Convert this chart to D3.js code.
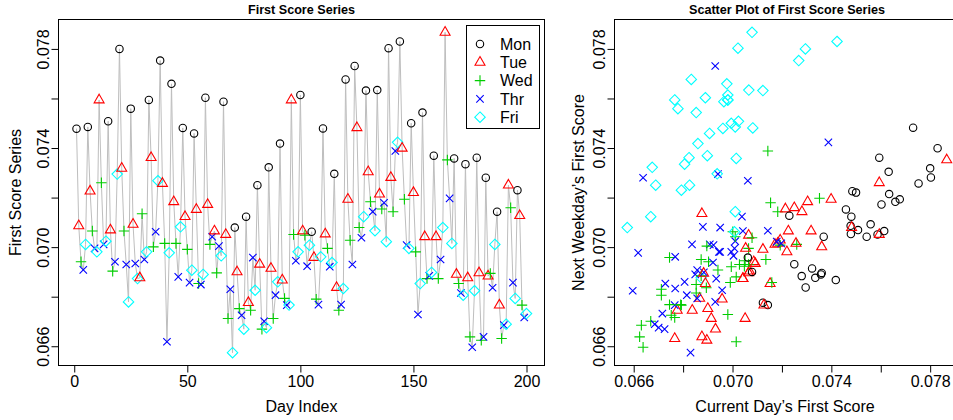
<!DOCTYPE html>
<html>
<head>
<meta charset="utf-8">
<script src="https://cdn.jsdelivr.net/npm/d3@7"></script>
<style>
  body { margin: 0; background: #fff; }
  svg text { font-family: "Liberation Sans", Arial, Helvetica, sans-serif; }
</style>
</head>
<body>
<svg id="chart" width="953" height="420"></svg>
<script>
// weekday names, R palette 1:5 and pch 1:5
var dayNames = ["Mon", "Tue", "Wed", "Thr", "Fri"];
var dayColors = ["#000000", "#ff0000", "#00cd00", "#0000ff", "#00ffff"];

// weekday of each observation (0 = Mon ... 4 = Fri), holidays leave gaps
var weekday = [
  0,1,2,3,4, 0,1,2,3,4, 1,2,3,4, 0,1,2,3,4, 0,1,2,3,4, 0,1,3,4, 1,2,3,4,
  0,1,2,3,4, 0,1,2,3,4, 0,1,2,3,4, 0,1,2,3,4, 0,1,2,3,4, 0,1,2,3, 1,2,3,4,
  0,1,2,3,4, 0,1,2,3,4, 0,1,2,3,4, 0,1,2,3,4, 0,1,2,3,4, 0,1,2,3,4, 1,2,3,4,
  0,1,2,3,4, 0,1,2,3,4, 0,1,2,3,4, 0,1,2,3,4, 0,1,2,3, 0,1,2,3,4, 0,1,2,3,4,
  0,1,2,3,4, 0,1,2,3,4, 0,1,2,3,4, 0,1,2,3,4, 0,1,2,3,4, 0,1,2,3,4, 1,2,3,4,
  0,1,2,3,4, 0,1,2,3,4, 0,1,2,3, 0,1,2,3,4, 0,1,2,3,4, 1,2,3,4, 0,1,2,3,4
];

// first score of each day
var scores = [
  0.07478,0.07086,0.06941,0.06908,0.07011, 0.07485,0.07226,0.07065,0.06995,0.06981,
  0.07594,0.07260,0.07011,0.07024, 0.07508,0.07069,0.06903,0.06941,0.07295,
  0.07800,0.07318,0.07065,0.06930,0.06779, 0.07559,0.07092,0.06934,0.06873,
  0.06876,0.07135,0.06950,0.06981, 0.07594,0.07361,0.07001,0.07062,0.07268,
  0.07753,0.07257,0.07015,0.06618,0.06977, 0.07659,0.07183,0.07015,0.06880,0.07082,
  0.07481,0.07123,0.06991,0.06857,0.06907, 0.07459,0.07152,0.06853,0.06849,0.06890,
  0.07603,0.07172,0.07011,0.07042, 0.07065,0.06896,0.07004,0.06965,
  0.07587,0.07051,0.06712,0.06830,0.06574, 0.07079,0.06900,0.06752,0.06725,0.06669,
  0.07123,0.06776,0.06745,0.06958,0.06826, 0.07250,0.06931,0.06669,0.06701,0.06675,
  0.07322,0.06914,0.06712,0.06806,0.06860, 0.07418,0.06867,0.06793,0.06766,0.06766,
  0.07594,0.07051,0.06945,0.06981, 0.07614,0.07065,0.07048,0.06923,0.07008,
  0.07062,0.06958,0.06790,0.06768,0.06961, 0.07479,0.07053,0.06995,0.06921,0.06938,
  0.07296,0.06837,0.06745,0.06768,0.06833, 0.07677,0.07193,0.07028,0.06930,
  0.07731,0.07482,0.07079,0.07038,0.07123, 0.07632,0.07304,0.07183,0.07143,0.07066,
  0.07634,0.07214,0.07154,0.07179,0.07022, 0.07803,0.07281,0.07143,0.07388,0.07423,
  0.07830,0.07399,0.07193,0.07008,0.06995, 0.07500,0.07220,0.06981,0.06728,0.06853,
  0.07543,0.07042,0.06873,0.06884,0.06898, 0.07369,0.07042,0.06873,0.06950,0.07079,
  0.07867,0.07352,0.07197,0.07015, 0.07358,0.06890,0.06853,0.06815,0.06806,
  0.07335,0.06876,0.06638,0.06596,0.06824, 0.07361,0.06896,0.06624,0.06638,
  0.07280,0.06883,0.06894,0.06836,0.07011, 0.07143,0.06766,0.06631,0.06685,0.06689,
  0.07250,0.07159,0.06857,0.06793, 0.07230,0.07127,0.06766,0.06716,0.06732
];

var dayTicks = [0, 50, 100, 150, 200];
var scoreTicks = [0.066, 0.068, 0.070, 0.072, 0.074, 0.076, 0.078];
var scoreLabels = [0.066, 0.070, 0.074, 0.078];

var svg = d3.select("#chart");
var fmt = d3.format(".3f");

// R style axis range: data range plus 4% each side
function rRange(ext) {
  var r = ext[1] - ext[0];
  return [ext[0] - 0.04 * r, ext[1] + 0.04 * r];
}

function drawSymbol(g, type, cx, cy, color) {
  var r = 3.7;
  if (type === 0) {
    g.append("circle").attr("cx", cx).attr("cy", cy).attr("r", r)
      .attr("fill", "none").attr("stroke", color).attr("stroke-width", 1.1);
  } else if (type === 1) {
    var top = r * 1.555, yc = r * 0.7776, xc = r * 1.3468;
    g.append("path")
      .attr("d", "M" + cx + "," + (cy - top) + "L" + (cx + xc) + "," + (cy + yc) +
        "L" + (cx - xc) + "," + (cy + yc) + "Z")
      .attr("fill", "none").attr("stroke", color).attr("stroke-width", 1.1);
  } else if (type === 2) {
    var a = r * 1.414;
    g.append("path")
      .attr("d", "M" + (cx - a) + "," + cy + "H" + (cx + a) + "M" + cx + "," + (cy - a) + "V" + (cy + a))
      .attr("fill", "none").attr("stroke", color).attr("stroke-width", 1.1);
  } else if (type === 3) {
    g.append("path")
      .attr("d", "M" + (cx - r) + "," + (cy - r) + "L" + (cx + r) + "," + (cy + r) +
        "M" + (cx - r) + "," + (cy + r) + "L" + (cx + r) + "," + (cy - r))
      .attr("fill", "none").attr("stroke", color).attr("stroke-width", 1.1);
  } else {
    var d = r * 1.414;
    g.append("path")
      .attr("d", "M" + cx + "," + (cy - d) + "L" + (cx + d) + "," + cy + "L" + cx + "," + (cy + d) +
        "L" + (cx - d) + "," + cy + "Z")
      .attr("fill", "none").attr("stroke", color).attr("stroke-width", 1.1);
  }
}

function bottomAxis(g, scale, ticks, labels, y, fmtFn) {
  var ax = d3.axisBottom(scale).tickValues(ticks).tickSize(7).tickPadding(3)
    .tickFormat(function(v) { return labels.indexOf(v) >= 0 ? fmtFn(v) : ""; });
  var a = g.append("g").attr("transform", "translate(0," + y + ")").call(ax);
  a.select(".domain").remove();
  a.selectAll("line").attr("stroke", "#000");
  a.selectAll("text").attr("font-size", 16).attr("fill", "#000")
    .attr("font-family", "Liberation Sans, Arial, sans-serif")
    .attr("y", 21).attr("dy", 0);
}

function leftAxis(g, scale, ticks, labels, x) {
  var ax = d3.axisLeft(scale).tickValues(ticks).tickSize(7)
    .tickFormat(function(v) { return labels.some(function(l) { return Math.abs(l - v) < 1e-9; }) ? fmt(v) : ""; });
  var a = g.append("g").attr("transform", "translate(" + x + ",0)").call(ax);
  a.select(".domain").remove();
  a.selectAll("line").attr("stroke", "#000");
  a.selectAll("text").attr("font-size", 16).attr("fill", "#000")
    .attr("font-family", "Liberation Sans, Arial, sans-serif")
    .attr("x", 0).attr("dy", 0).attr("text-anchor", "middle")
    .attr("transform", "translate(-10,0) rotate(-90)");
}

// bold narrow title, falls back to regular width if the narrow face is missing
function addTitle(g, cx, label) {
  var t = g.append("text").attr("x", cx).attr("y", 14)
    .attr("text-anchor", "middle").attr("font-weight", "bold")
    .attr("font-family", "Liberation Sans Narrow")
    .attr("font-size", 14.5).text(label);
  var target = label.length * 5.95;
  if (t.node().getComputedTextLength() > target * 1.08) {
    t.attr("font-family", "Liberation Sans, Arial, sans-serif").attr("font-size", 12.6);
  }
}

// ---------------- left panel: the series ----------------
var L = { left: 58.5, right: 544.5, top: 19.5, bottom: 365.5 };
var x = d3.scaleLinear().domain(rRange([1, scores.length])).range([L.left, L.right]);
var y = d3.scaleLinear().domain(rRange(d3.extent(scores))).range([L.bottom, L.top]);

var gl = svg.append("g");
gl.append("path")
  .datum(scores)
  .attr("d", d3.line().x(function(d, i) { return x(i + 1); }).y(function(d) { return y(d); }))
  .attr("fill", "none").attr("stroke", "#bebebe").attr("stroke-width", 1);

scores.forEach(function(v, i) {
  drawSymbol(gl, weekday[i], x(i + 1), y(v), dayColors[weekday[i]]);
});

gl.append("rect").attr("x", L.left).attr("y", L.top)
  .attr("width", L.right - L.left).attr("height", L.bottom - L.top)
  .attr("fill", "none").attr("stroke", "#000");

bottomAxis(gl, x, dayTicks, dayTicks, L.bottom, d3.format("d"));
leftAxis(gl, y, scoreTicks, scoreLabels, L.left);

addTitle(gl, (L.left + L.right) / 2, "First Score Series");
gl.append("text").attr("x", (L.left + L.right) / 2).attr("y", 412)
  .attr("text-anchor", "middle").attr("font-size", 16).text("Day Index");
gl.append("text").attr("transform", "translate(21," + ((L.top + L.bottom) / 2) + ") rotate(-90)")
  .attr("text-anchor", "middle").attr("font-size", 16).text("First Score Series");

// legend
var leg = gl.append("g");
leg.append("rect").attr("x", 466.5).attr("y", 25.5).attr("width", 73).attr("height", 103)
  .attr("fill", "#fff").attr("stroke", "#000");
dayNames.forEach(function(name, i) {
  var ly = 44 + i * 18.3;
  drawSymbol(leg, i, 480, ly, dayColors[i]);
  leg.append("text").attr("x", 500).attr("y", ly).attr("dy", "0.36em")
    .attr("font-size", 16).text(name);
});

// ---------------- right panel: lag scatter ----------------
var pairs = d3.range(scores.length - 1).map(function(i) {
  return { cur: scores[i], next: scores[i + 1], day: weekday[i] };
});
var R = { left: 614.5, right: 959.5, top: 19.5, bottom: 365.5 };
var sx = d3.scaleLinear().domain(rRange(d3.extent(pairs, function(d) { return d.cur; }))).range([R.left, R.right]);
var sy = d3.scaleLinear().domain(rRange(d3.extent(pairs, function(d) { return d.next; }))).range([R.bottom, R.top]);

var gr = svg.append("g");
pairs.forEach(function(p) {
  drawSymbol(gr, p.day, sx(p.cur), sy(p.next), dayColors[p.day]);
});
gr.append("rect").attr("x", R.left).attr("y", R.top)
  .attr("width", R.right - R.left).attr("height", R.bottom - R.top)
  .attr("fill", "none").attr("stroke", "#000");

bottomAxis(gr, sx, scoreTicks, scoreLabels, R.bottom, fmt);
leftAxis(gr, sy, scoreTicks, scoreLabels, R.left);

addTitle(gr, (R.left + R.right) / 2, "Scatter Plot of First Score Series");
gr.append("text").attr("x", (R.left + R.right) / 2 - 2).attr("y", 412)
  .attr("text-anchor", "middle").attr("font-size", 16).text("Current Day\u2019s First Score");
gr.append("text").attr("transform", "translate(584," + ((R.top + R.bottom) / 2) + ") rotate(-90)")
  .attr("text-anchor", "middle").attr("font-size", 16).text("Next Weekday\u2019s First Score");
</script>
</body>
</html>
